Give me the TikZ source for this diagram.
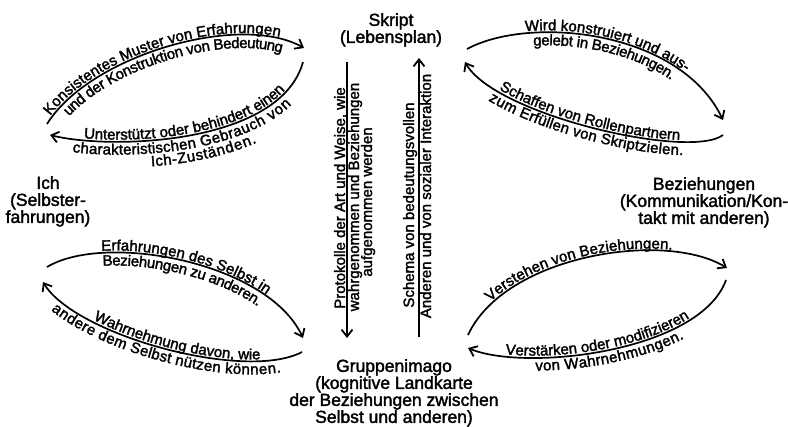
\documentclass[tikz,border=0pt]{standalone}
\usepackage{fontspec}
\setmainfont{Liberation Sans}[FakeBold=2]
\usetikzlibrary{arrows.meta,decorations.text}
\newcommand\lblfont{\fontsize{15bp}{13bp}\selectfont}
\newcommand\nodefont{\fontsize{17.5bp}{17bp}\selectfont}
\begin{document}
\begin{tikzpicture}[x=1bp,y=-1bp,
  arc/.style={line width=1.7bp},
  tipend/.style={-{Straight Barb[length=7bp,width=11bp,line width=1.8bp]}},
  tipstart/.style={{Straight Barb[length=7bp,width=11bp,line width=1.8bp]}-},
  centre/.style={font=\nodefont, align=center, inner sep=0pt, anchor=north},
  vlbl/.style={font=\lblfont, rotate=90, anchor=base, inner sep=0pt},
  lbl/.style={decorate, decoration={text along path, text align=center, raise=#1}},
  lbl/.default=2bp
]
\useasboundingbox (0,0) rectangle (788,426);

% main nodes
\node[centre] (skript) at (391,13) {Skript\\(Lebensplan)};
\node[centre] (gruppe) at (394,359) {Gruppenimago\\(kognitive Landkarte\\der Beziehungen zwischen\\Selbst und anderen)};
\node[centre] (ich) at (48,176) {Ich\\(Selbster-\\fahrungen)};
\node[centre] (bez) at (704,177) {Beziehungen\\(Kommunikation/Kon-\\takt mit anderen)};

% vertical arrows
\coordinate (pa) at (347,62); \coordinate (pb) at (347,338);
\coordinate (sa) at (419,337); \coordinate (sb) at (419,58);
\draw[arc,tipend] (pa) -- (pb);
\draw[arc,tipend] (sa) -- (sb);
\node[vlbl] (prot1) at (345,198) {Protokolle der Art und Weise, wie};
\node[vlbl] (prot2) at (359,197) {wahrgenommen und Beziehungen};
\node[vlbl] (prot3) at (372,202) {aufgenommen werden};
\node[vlbl] (schema1) at (414,205) {Schema von bedeutungsvollen};
\node[vlbl] (schema2) at (431,196) {Anderen und von sozialer Interaktion};

% top-left loop
\coordinate (tlA) at (47,124); \coordinate (tlB) at (304,48);
\coordinate (tlC) at (50,135); \coordinate (tlD) at (303,62);
\draw[arc,tipend] (tlA) .. controls (90,55) and (240,12) .. (tlB);
\draw[arc,tipstart] (tlC) .. controls (110,150) and (280,145) .. (tlD);
\path[lbl, decoration={text={|\lblfont|Konsistentes Muster von Erfahrungen}, text align={center, right indent=18bp}}]
  (tlA) .. controls (90,55) and (240,12) .. (tlB);
\path[lbl=-13bp, decoration={text={|\lblfont|und der Konstruktion von Bedeutung}}]
  (tlA) .. controls (90,55) and (240,12) .. (tlB);
\path[lbl, decoration={text={|\lblfont|Unterstützt oder behindert einen}}]
  (tlC) .. controls (110,150) and (280,145) .. (tlD);
\path[lbl=-13bp, decoration={text={|\lblfont|charakteristischen Gebrauch von}, text align={center, right indent=15bp}}]
  (tlC) .. controls (110,150) and (280,145) .. (tlD);
\path[lbl=-26bp, decoration={text={|\lblfont|Ich-Zuständen.}, text align={center, left indent=17bp}}]
  (tlC) .. controls (110,150) and (280,145) .. (tlD);

% top-right loop
\coordinate (trA) at (467,49); \coordinate (trB) at (723,120);
\coordinate (trC) at (465,62); \coordinate (trD) at (723,135);
\draw[arc,tipend] (trA) .. controls (530,15) and (680,30) .. (trB);
\draw[arc,tipstart] (trC) .. controls (495,115) and (690,160) .. (trD);
\path[lbl, decoration={text={|\lblfont|Wird konstruiert und aus-}}]
  (trA) .. controls (530,15) and (680,30) .. (trB);
\path[lbl=-13bp, decoration={text={|\lblfont|gelebt in Beziehungen.}}]
  (trA) .. controls (530,15) and (680,30) .. (trB);
\path[lbl, decoration={text={|\lblfont|Schaffen von Rollenpartnern}}]
  (trC) .. controls (495,115) and (690,160) .. (trD);
\path[lbl=-13bp, decoration={text={|\lblfont|zum Erfüllen von Skriptzielen.}}]
  (trC) .. controls (495,115) and (690,160) .. (trD);

% bottom-left loop
\coordinate (blA) at (47,267); \coordinate (blB) at (303,338);
\coordinate (blC) at (43,282); \coordinate (blD) at (302,352);
\draw[arc,tipend] (blA) .. controls (105,232) and (268,262) .. (blB);
\draw[arc,tipstart] (blC) .. controls (75,335) and (245,382) .. (blD);
\path[lbl, decoration={text={|\lblfont|Erfahrungen des Selbst in}}]
  (blA) .. controls (105,232) and (268,262) .. (blB);
\path[lbl=-13bp, decoration={text={|\lblfont|Beziehungen zu anderen.}}]
  (blA) .. controls (105,232) and (268,262) .. (blB);
\path[lbl, decoration={text={|\lblfont|Wahrnehmung davon, wie}, text align={center, left indent=21bp}}]
  (blC) .. controls (75,335) and (245,382) .. (blD);
\path[lbl=-13bp, decoration={text={|\lblfont|andere dem Selbst nützen können.}}]
  (blC) .. controls (75,335) and (245,382) .. (blD);

% bottom-right loop
\coordinate (brA) at (468,335); \coordinate (brB) at (727,268);
\coordinate (brC) at (468,348); \coordinate (brD) at (726,280);
\draw[arc,tipend] (brA) .. controls (505,255) and (665,230) .. (brB);
\draw[arc,tipstart] (brC) .. controls (525,372) and (700,352) .. (brD);
\path[lbl, decoration={text={|\lblfont|Verstehen von Beziehungen.}, text align={center, right indent=18bp}}]
  (brA) .. controls (505,255) and (665,230) .. (brB);
\path[lbl, decoration={text={|\lblfont|Verstärken oder modifizieren}, text align={center, right indent=16bp}}]
  (brC) .. controls (525,372) and (700,352) .. (brD);
\path[lbl=-13bp, decoration={text={|\lblfont|von Wahrnehmungen.}}]
  (brC) .. controls (525,372) and (700,352) .. (brD);
\end{tikzpicture}
\end{document}
